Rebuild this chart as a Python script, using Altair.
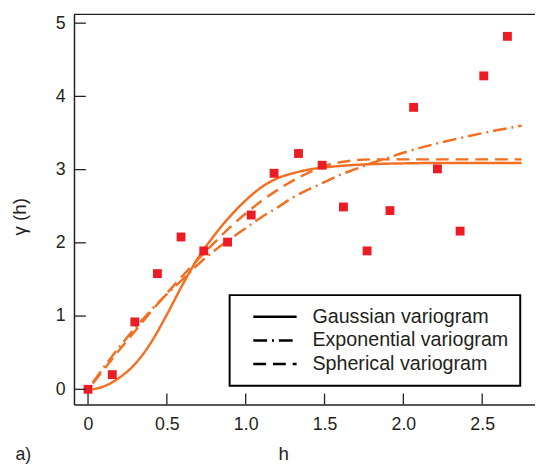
import altair as alt
import pandas as pd

# ---- empirical variogram (red squares) ----
emp_h = [0.0, 0.154, 0.297, 0.44, 0.59, 0.734, 0.885, 1.035, 1.18, 1.335, 1.485,
         1.62, 1.77, 1.915, 2.065, 2.216, 2.36, 2.51, 2.66]
emp_g = [0.0, 0.20, 0.92, 1.58, 2.08, 1.89, 2.01, 2.38, 2.95, 3.22, 3.06,
         2.49, 1.89, 2.44, 3.85, 3.01, 2.16, 4.28, 4.82]

# ---- fitted models ----
gauss_h = [0.03, 0.1, 0.2, 0.3, 0.4, 0.5, 0.6, 0.7, 0.8, 0.9, 1.0, 1.1, 1.2, 1.3,
           1.4, 1.5, 1.6, 1.7, 1.8, 2.0, 2.2, 2.75]
gauss_g = [0.0, 0.04, 0.16, 0.35, 0.64, 1.02, 1.43, 1.80, 2.10, 2.36, 2.58, 2.76,
           2.88, 2.95, 3.00, 3.03, 3.05, 3.065, 3.075, 3.085, 3.09, 3.09]

expo_h = [0.03, 0.1, 0.2, 0.3, 0.4, 0.5, 0.6, 0.7, 0.8, 0.9, 1.0, 1.1, 1.2, 1.3,
          1.4, 1.5, 1.6, 1.7, 1.8, 1.9, 2.0, 2.2, 2.4, 2.6, 2.75]
expo_g = [0.09, 0.30, 0.58, 0.84, 1.08, 1.30, 1.50, 1.71, 1.89, 2.05, 2.20, 2.35,
          2.48, 2.62, 2.73, 2.83, 2.93, 3.01, 3.09, 3.16, 3.23, 3.35, 3.45, 3.54, 3.60]

sph_h = [0.03, 0.1, 0.2, 0.3, 0.4, 0.5, 0.6, 0.7, 0.8, 0.9, 1.0, 1.1, 1.2, 1.3,
         1.4, 1.5, 1.6, 1.7, 1.8, 2.75]
sph_g = [0.08, 0.27, 0.54, 0.80, 1.06, 1.31, 1.55, 1.78, 2.00, 2.21, 2.40, 2.57,
         2.72, 2.85, 2.96, 3.05, 3.10, 3.13, 3.14, 3.14]

models = ["Gaussian variogram", "Exponential variogram", "Spherical variogram"]
dashes = [[1, 0], [14, 5, 2, 5], [13, 7]]

x_ticks = [0, 0.5, 1.0, 1.5, 2.0, 2.5]
y_ticks = [0, 1, 2, 3, 4, 5]

x_domain = [-0.089, 2.835]
y_domain = [-0.207, 5.12]

W, H = 468, 396
ORANGE = "#f36f21"
RED = "#ec1c24"
INK = "#231f20"
FONT = "Liberation Sans"

curves = pd.concat([
    pd.DataFrame({"h": gauss_h, "g": gauss_g, "model": models[0], "o": range(len(gauss_h))}),
    pd.DataFrame({"h": expo_h, "g": expo_g, "model": models[1], "o": range(len(expo_h))}),
    pd.DataFrame({"h": sph_h, "g": sph_g, "model": models[2], "o": range(len(sph_h))}),
])
points = pd.DataFrame({"h": emp_h, "g": emp_g})

xs = alt.Scale(domain=x_domain, nice=False, zero=False)
ys = alt.Scale(domain=y_domain, nice=False, zero=False)

x_axis = alt.Axis(
    values=x_ticks, ticks=False, tickSize=0, grid=False,
    labelExpr="datum.value == 0 ? '0' : format(datum.value, '.1f')",
    labelPadding=11, labelFontSize=18, labelFont=FONT, labelColor=INK,
    domainColor=INK, domainWidth=1.5,
    title="h", titleFont=FONT, titleFontSize=19, titleFontWeight="normal",
    titleColor=INK, titleX=212.5, titleY=56, titleAlign="center",
    titleBaseline="alphabetic",
)
y_axis = alt.Axis(
    values=y_ticks, ticks=False, tickSize=0, grid=False, format="d",
    labelPadding=9, labelFontSize=18, labelFont=FONT, labelColor=INK,
    domainColor=INK, domainWidth=1.5,
    title="γ (h)", titleFont=FONT, titleFontSize=19, titleFontWeight="normal",
    titleColor=INK, titleX=-55, titleY=205, titleAngle=270,
    titleAlign="center", titleBaseline="middle",
)

X = alt.X("h:Q", scale=xs, axis=x_axis)
Y = alt.Y("g:Q", scale=ys, axis=y_axis)

lines = alt.Chart(curves).mark_line(
    color=ORANGE, strokeWidth=2.5, interpolate="monotone"
).encode(
    x=X, y=Y,
    order="o:Q",
    strokeDash=alt.StrokeDash(
        "model:N",
        scale=alt.Scale(domain=models, range=dashes),
        sort=models,
        legend=alt.Legend(
            title=None, orient="none", legendX=158, legendY=285,
            strokeColor="black", padding=12, fillColor="white",
            symbolType="M-4,0H4", symbolSize=121, symbolStrokeWidth=2.5,
            symbolStrokeColor="black", symbolOffset=24, labelOffset=28,
            labelFontSize=20, labelFont=FONT, labelColor=INK,
            rowPadding=4, labelLimit=400,
        ),
    ),
)

pts = alt.Chart(points).mark_square(size=81, color=RED, opacity=1).encode(x=X, y=Y)

xt = alt.Chart(pd.DataFrame({"h": x_ticks})).mark_rule(color=INK, strokeWidth=1.3).encode(
    x=X, y=alt.value(H), y2=alt.value(H - 11),
)
yt = alt.Chart(pd.DataFrame({"g": y_ticks})).mark_rule(color=INK, strokeWidth=1.3).encode(
    y=Y, x=alt.value(0), x2=alt.value(12),
)
top = alt.Chart(pd.DataFrame({"a": [0]})).mark_rule(color=INK, strokeWidth=1.5).encode(
    x=alt.value(0), x2=alt.value(W), y=alt.value(0),
)
panel = alt.Chart(pd.DataFrame({"t": ["a)"]})).mark_text(
    align="left", baseline="alphabetic", fontSize=18, font=FONT, color=INK
).encode(text="t:N", x=alt.value(-59.4), y=alt.value(452))

chart = alt.layer(lines, pts, xt, yt, top, panel).properties(
    width=W, height=H,
    autosize=alt.AutoSizeParams(type="none"),
    padding={"left": 67, "top": 3, "right": 0, "bottom": 58},
).configure_view(stroke=None).configure_legend(strokeWidth=2)

chart.save("out.html", embed_options={"renderer": "svg", "actions": False})
